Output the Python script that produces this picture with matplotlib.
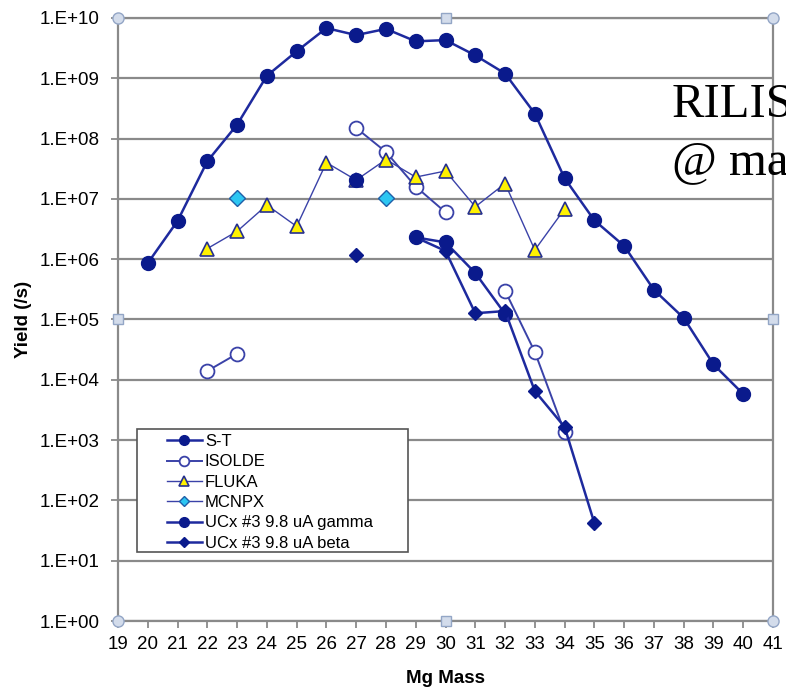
import numpy as np
import matplotlib
matplotlib.use("Agg")
import matplotlib.pyplot as plt
from matplotlib.patches import Rectangle
from matplotlib.ticker import FixedLocator, FuncFormatter

nan = np.nan

# Mg mass numbers 20..40
mass = np.arange(20, 41)

st = [8.6e5, 4.3e6, 4.2e7, 1.7e8, 1.1e9, 2.8e9, 6.8e9, 5.2e9, 6.6e9, 4.1e9,
      4.3e9, 2.4e9, 1.2e9, 2.6e8, 2.2e7, 4.4e6, 1.66e6, 3.1e5, 1.06e5, 1.8e4, 5.8e3]
isolde = [nan, nan, 1.4e4, 2.7e4, nan, nan, nan, 1.5e8, 6.0e7, 1.6e7,
          6.0e6, nan, 3.0e5, 2.9e4, 1.36e3, nan, nan, nan, nan, nan, nan]
fluka = [nan, nan, 1.5e6, 2.9e6, 7.9e6, 3.5e6, 4.0e7, 2.05e7, 4.5e7, 2.3e7,
         2.9e7, 7.4e6, 1.8e7, 1.42e6, 6.8e6, nan, nan, nan, nan, nan, nan]
mcnpx = [nan, nan, nan, 1.03e7, nan, nan, nan, nan, 1.03e7, nan,
         nan, nan, nan, nan, nan, nan, nan, nan, nan, nan, nan]
ucx_gamma = [nan, nan, nan, nan, nan, nan, nan, 2.05e7, nan, 2.3e6,
             1.9e6, 5.9e5, 1.24e5, nan, nan, nan, nan, nan, nan, nan, nan]
ucx_beta = [nan, nan, nan, nan, nan, nan, nan, 1.17e6, nan, 2.3e6,
            1.37e6, 1.27e5, 1.38e5, 6.5e3, 1.65e3, 42, nan, nan, nan, nan, nan]

navy = "#0A1A8C"
blue_line = "#1E2A9E"
thin_edge = "#3A42A8"

fig = plt.figure(figsize=(7.86, 6.92), dpi=100)
ax = fig.add_axes([0.1501, 0.1026, 0.8334, 0.8714])

ax.plot(mass, st, "-o", color=blue_line, lw=1.8, ms=10,
        mfc=navy, mec=navy, label="S-T", zorder=3)
ax.plot(mass, isolde, "-o", color=thin_edge, lw=1.4, ms=10,
        mfc="white", mec=thin_edge, mew=1.3, label="ISOLDE", zorder=3)
ax.plot(mass, fluka, "-^", color=thin_edge, lw=1.0, ms=10,
        mfc="#FFF200", mec="#26308F", mew=1.2, label="FLUKA", zorder=4)
ax.plot(mass, mcnpx, "-D", color=thin_edge, lw=1.0, ms=8,
        mfc="#2CC6F2", mec="#1F5FA8", mew=1.0, label="MCNPX", zorder=4)
ax.plot(mass, ucx_gamma, "-o", color=blue_line, lw=1.8, ms=10,
        mfc=navy, mec=navy, label="UCx #3 9.8 uA gamma", zorder=5)
ax.plot(mass, ucx_beta, "-D", color=blue_line, lw=1.8, ms=7.5,
        mfc=navy, mec=navy, label="UCx #3 9.8 uA beta", zorder=5)

ax.set_yscale("log")
ax.set_ylim(1, 1e10)
ax.set_xlim(19, 41)
ax.yaxis.set_major_locator(FixedLocator([10.0 ** k for k in range(11)]))
ax.yaxis.set_minor_locator(FixedLocator([]))
ax.yaxis.set_major_formatter(FuncFormatter(lambda v, p: "1.E+%02d" % round(np.log10(v))))
ax.xaxis.set_major_locator(FixedLocator(range(19, 42)))

ax.grid(axis="y", color="#8a8a8a", lw=1.6, zorder=0)
for side in ax.spines.values():
    side.set_color("#8a8a8a")
    side.set_linewidth(1.6)
ax.tick_params(axis="both", colors="#8a8a8a", labelcolor="black",
               labelsize=13.5, length=5, width=1.3)
for lab in ax.get_xticklabels() + ax.get_yticklabels():
    lab.set_family("Liberation Sans")
ax.tick_params(axis="y", pad=8)
ax.tick_params(axis="x", pad=6)

ax.set_xlabel("Mg Mass", fontsize=13.5, fontweight="bold", family="Liberation Sans")
ax.set_ylabel("Yield (/s)", fontsize=13.5, fontweight="bold", family="Liberation Sans")
ax.xaxis.set_label_coords(0.5, -0.081)
ax.yaxis.set_label_coords(-0.131, 0.5)

# legend frame drawn as its own box so the entries can sit indented inside it
box = Rectangle((0.029, 0.1144), 0.414, 0.204, transform=ax.transAxes,
                facecolor="white", edgecolor="#555555", lw=1.2, zorder=9)
ax.add_patch(box)
leg = ax.legend(loc="upper left", bbox_to_anchor=(0.0748, 0.3101), frameon=False,
                prop={"family": "Liberation Sans", "size": 12},
                markerscale=0.7, handlelength=2.1, handletextpad=0.18,
                labelspacing=0.32, borderpad=0, borderaxespad=0)
leg.set_zorder(10)

# selection handles on the plot area frame
corners = [(0, 0), (1, 0), (0, 1), (1, 1)]
mids = [(0.5, 0), (0.5, 1), (0, 0.5), (1, 0.5)]
for cx, cy in corners:
    ax.plot(cx, cy, "o", ms=8, mfc="#D3DCEB", mec="#93A6C6", mew=1.0,
            transform=ax.transAxes, clip_on=False, zorder=12)
for cx, cy in mids:
    ax.plot(cx, cy, "s", ms=7.5, mfc="#D3DCEB", mec="#93A6C6", mew=1.0,
            transform=ax.transAxes, clip_on=False, zorder=12)

fig.text(672 / 786, 1 - 117 / 692, "RILIS", fontsize=35, family="Liberation Serif",
         color="black", ha="left", va="baseline")
fig.text(672 / 786, 1 - 174 / 692, "@ ma", fontsize=35, family="Liberation Serif",
         color="black", ha="left", va="baseline")

fig.savefig("out.png", dpi=100)
